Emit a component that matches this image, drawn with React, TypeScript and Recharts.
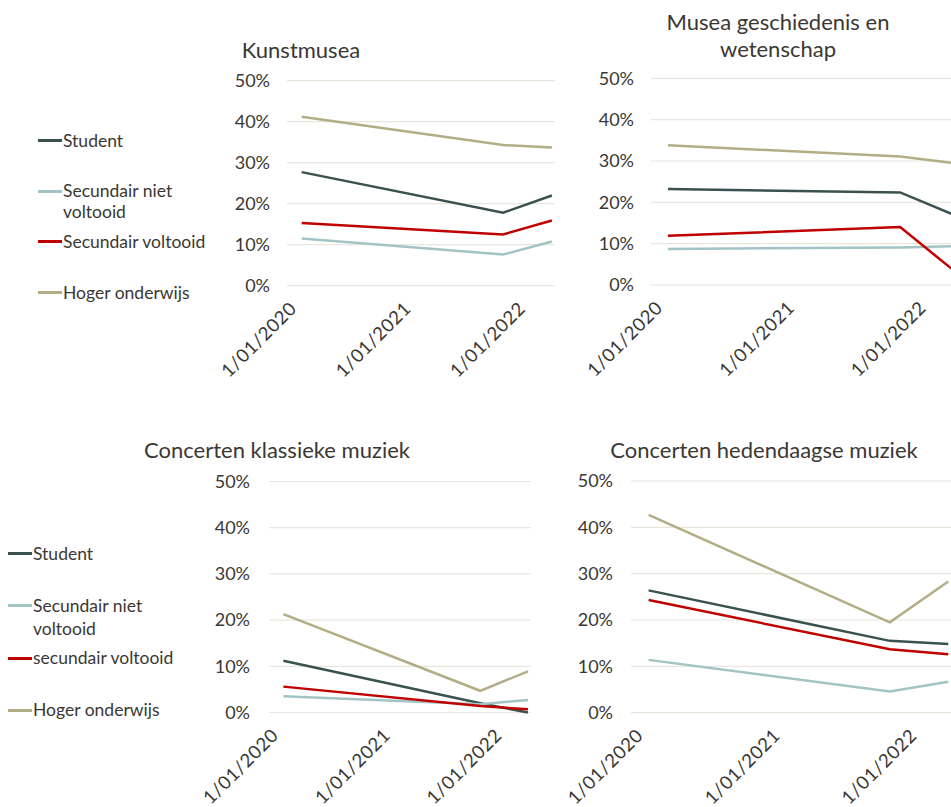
import { CartesianGrid, Legend, Line, LineChart, XAxis, YAxis } from "recharts";

const surveyDates = ["2020-01-10", "2021-10-15", "2022-03-20"];
const axisStart = "2019-11-24";
const axisEnd = "2022-03-30";
const yearTicks = ["2020-01-01", "2021-01-01", "2022-01-01"];
const percentTicks = [0, 0.1, 0.2, 0.3, 0.4, 0.5];

const seriesKeys = ["student", "nietVoltooid", "voltooid", "hoger"];
const seriesColors = ["#3a524f", "#a3c4c4", "#c00000", "#b3ad86"];
const namesTop = ["Student", "Secundair niet voltooid", "Secundair voltooid", "Hoger onderwijs"];
const namesBottom = ["Student", "Secundair niet voltooid", "secundair voltooid", "Hoger onderwijs"];

// Kunstmusea
const kunstStudent = [0.277, 0.178, 0.22];
const kunstNietVoltooid = [0.115, 0.076, 0.108];
const kunstVoltooid = [0.153, 0.125, 0.159];
const kunstHoger = [0.412, 0.343, 0.337];

// Musea geschiedenis en wetenschap
const museaStudent = [0.232, 0.224, 0.167];
const museaNietVoltooid = [0.087, 0.091, 0.094];
const museaVoltooid = [0.119, 0.14, 0.03];
const museaHoger = [0.338, 0.311, 0.294];

// Concerten klassieke muziek
const klassiekStudent = [0.112, 0.02, 0.0];
const klassiekNietVoltooid = [0.035, 0.018, 0.027];
const klassiekVoltooid = [0.056, 0.014, 0.007];
const klassiekHoger = [0.213, 0.047, 0.089];

// Concerten hedendaagse muziek
const hedenStudent = [0.264, 0.155, 0.148];
const hedenNietVoltooid = [0.114, 0.046, 0.067];
const hedenVoltooid = [0.243, 0.137, 0.126];
const hedenHoger = [0.427, 0.195, 0.283];

const TEXT = "#3b3733";
const FONT = "Lato, 'Noto Sans', sans-serif";

function buildRows(series: number[][]) {
  return surveyDates.map((d, i) => {
    const row: Record<string, number> = { t: Date.parse(d) };
    seriesKeys.forEach((key, s) => {
      row[key] = series[s][i];
    });
    return row;
  });
}

function formatDate(value: number): string {
  const d = new Date(value);
  const month = String(d.getUTCMonth() + 1).padStart(2, "0");
  return `${d.getUTCDate()}/${month}/${d.getUTCFullYear()}`;
}

function DateTick(props: any) {
  const { x, y, payload } = props;
  const tx = x - 1;
  const ty = y + 24;
  return (
    <text
      x={tx}
      y={ty}
      transform={`rotate(-45 ${tx} ${ty})`}
      textAnchor="end"
      fill={TEXT}
      fontSize={18.5}
      letterSpacing={0.6}
      fontFamily={FONT}
    >
      {formatDate(payload.value)}
    </text>
  );
}

type LegendBox = { left: number; top: number; spacing: number; lineHeight: number };

function SideLegend({ payload, box }: { payload?: any[]; box: LegendBox }) {
  // keep the series order, not the alphabetical one
  const entries = [...(payload ?? [])].sort(
    (a, b) => seriesKeys.indexOf(a.dataKey) - seriesKeys.indexOf(b.dataKey),
  );
  return (
    <div style={{ fontFamily: FONT, fontSize: 17.5, color: TEXT }}>
      {entries.map((entry) => (
        <div key={entry.value} style={{ display: "flex", height: box.spacing }}>
          <span
            style={{
              width: 24,
              height: 3,
              marginTop: box.lineHeight / 2 - 1,
              background: entry.color,
              flex: "none",
            }}
          />
          <span style={{ width: 165, lineHeight: `${box.lineHeight}px`, textAlign: "left", paddingLeft: 1 }}>
            {entry.value}
          </span>
        </div>
      ))}
    </div>
  );
}

type PanelProps = {
  title: string[];
  titleCenter: number;
  titleTop: number;
  box: { left: number; top: number; width: number; height: number };
  plot: { x0: number; x1: number; y0: number; y1: number };
  yGap: number;
  series: number[][];
  names: string[];
  legend?: LegendBox;
};

const Y_AXIS_WIDTH = 60;
const X_AXIS_HEIGHT = 60;

function Panel({ title, titleCenter, titleTop, box, plot, yGap, series, names, legend }: PanelProps) {
  const data = buildRows(series);
  const margin = {
    left: plot.x0 - box.left - Y_AXIS_WIDTH,
    right: box.left + box.width - plot.x1,
    top: plot.y0 - box.top,
    bottom: box.top + box.height - plot.y1 - X_AXIS_HEIGHT,
  };

  return (
    <div style={{ position: "absolute", left: box.left, top: box.top, width: box.width, height: box.height }}>
      <LineChart width={box.width} height={box.height} data={data} margin={margin}>
        <CartesianGrid vertical={false} stroke="#e8e6dd" strokeWidth={1.2} />
        <XAxis
          dataKey="t"
          type="number"
          domain={[Date.parse(axisStart), Date.parse(axisEnd)]}
          ticks={yearTicks.map((d) => Date.parse(d))}
          allowDataOverflow
          axisLine={false}
          tickLine={false}
          tickSize={0}
          tickMargin={0}
          height={X_AXIS_HEIGHT}
          interval={0}
          tick={(p: any) => <DateTick {...p} />}
        />
        <YAxis
          type="number"
          domain={[0, 0.5]}
          ticks={percentTicks}
          width={Y_AXIS_WIDTH}
          axisLine={false}
          tickLine={false}
          tickSize={0}
          tickMargin={yGap}
          interval={0}
          tickFormatter={(v: number) => `${Math.round(v * 100)}%`}
          tick={{ fill: TEXT, fontSize: 18, fontFamily: FONT }}
        />
        {legend && (
          <Legend
            layout="vertical"
            align="center"
            verticalAlign="middle"
            wrapperStyle={{ left: legend.left, top: legend.top, width: 200 }}
            content={(p: any) => <SideLegend payload={p.payload} box={legend} />}
          />
        )}
        {seriesKeys.map((key, i) => (
          <Line
            key={key}
            type="linear"
            dataKey={key}
            name={names[i]}
            stroke={seriesColors[i]}
            strokeWidth={2.5}
            dot={false}
            activeDot={false}
            isAnimationActive={false}
          />
        ))}
      </LineChart>
      <div
        style={{
          position: "absolute",
          left: titleCenter - box.left,
          top: titleTop - box.top,
          transform: "translateX(-50%)",
          whiteSpace: "nowrap",
          textAlign: "center",
          fontFamily: FONT,
          fontSize: 22,
          lineHeight: "26.5px",
          color: TEXT,
        }}
      >
        {title.map((line) => (
          <div key={line}>{line}</div>
        ))}
      </div>
    </div>
  );
}

export default function App() {
  return (
    <div
      style={{
        position: "absolute",
        left: 0,
        top: 0,
        width: 951,
        height: 807,
        overflow: "hidden",
        background: "#ffffff",
      }}
    >
      <Panel
        title={["Kunstmusea"]}
        titleCenter={301}
        titleTop={37}
        box={{ left: 0, top: 0, width: 560, height: 400 }}
        plot={{ x0: 287, x1: 555, y0: 80.7, y1: 285.7 }}
        yGap={17}
        series={[kunstStudent, kunstNietVoltooid, kunstVoltooid, kunstHoger]}
        names={namesTop}
        legend={{ left: 38, top: 129.5, spacing: 50.7, lineHeight: 21 }}
      />
      <Panel
        title={["Musea geschiedenis en", "wetenschap"]}
        titleCenter={778}
        titleTop={9}
        box={{ left: 560, top: 0, width: 410, height: 400 }}
        plot={{ x0: 651, x1: 960, y0: 78.3, y1: 285 }}
        yGap={17}
        series={[museaStudent, museaNietVoltooid, museaVoltooid, museaHoger]}
        names={namesTop}
      />
      <Panel
        title={["Concerten klassieke muziek"]}
        titleCenter={277}
        titleTop={437}
        box={{ left: 0, top: 410, width: 560, height: 397 }}
        plot={{ x0: 269, x1: 531, y0: 481.5, y1: 712.5 }}
        yGap={19}
        series={[klassiekStudent, klassiekNietVoltooid, klassiekVoltooid, klassiekHoger]}
        names={namesBottom}
        legend={{ left: 8, top: 131.5, spacing: 52.3, lineHeight: 23 }}
      />
      <Panel
        title={["Concerten hedendaagse muziek"]}
        titleCenter={764}
        titleTop={437}
        box={{ left: 560, top: 410, width: 410, height: 397 }}
        plot={{ x0: 631, x1: 952, y0: 481, y1: 712.7 }}
        yGap={18}
        series={[hedenStudent, hedenNietVoltooid, hedenVoltooid, hedenHoger]}
        names={namesBottom}
      />
    </div>
  );
}
